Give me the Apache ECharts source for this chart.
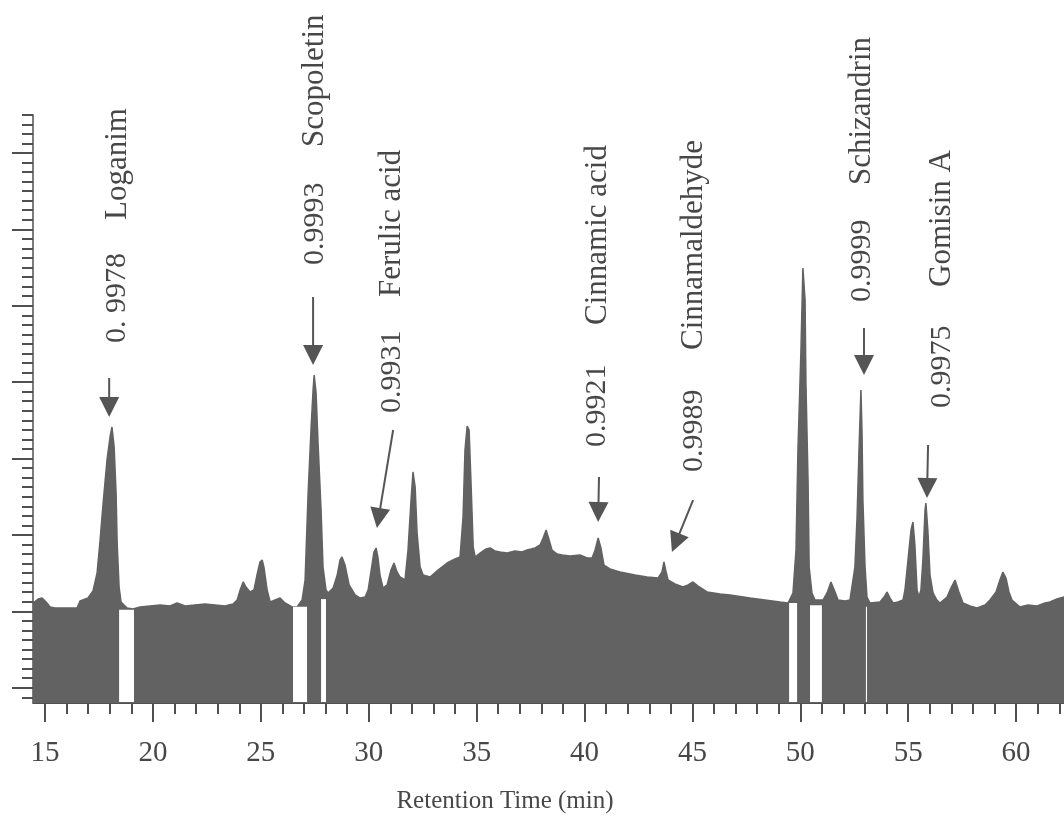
<!DOCTYPE html>
<html>
<head>
<meta charset="utf-8">
<script src="https://cdn.jsdelivr.net/npm/echarts@6/dist/echarts.min.js"></script>
<style>
html,body{margin:0;padding:0;background:#ffffff;}
#chart{width:1064px;height:818px;}
</style>
</head>
<body>
<div id="chart"></div>
<script>
// ---- chromatogram trace (retention time in min, detector signal in arbitrary units)
const retentionTime = [
  14.44,14.68,14.86,15.05,15.23,15.46,16.48,16.62,16.99,17.22,17.41,17.55,17.69,17.87,18.01,18.10,18.20,18.29,18.34,18.43,18.52,18.80,19.08,
  19.40,19.87,20.33,20.79,21.12,21.49,21.95,22.41,22.88,23.34,23.71,23.90,24.04,24.18,24.31,24.50,24.68,24.82,24.96,25.06,
  25.15,25.29,25.43,25.66,25.89,26.12,26.45,26.68,26.91,27.05,27.19,27.33,27.42,27.47,27.56,27.65,27.79,27.88,28.02,28.11,
  28.35,28.54,28.67,28.76,28.90,29.09,29.37,29.60,29.83,29.97,30.15,30.24,30.34,30.43,30.52,30.66,30.85,31.03,31.17,31.31,
  31.45,31.68,31.82,31.96,32.05,32.15,32.24,32.38,32.52,32.84,33.21,33.63,34.00,34.23,34.37,34.46,34.56,34.65,34.74,34.84,34.93,
  35.16,35.44,35.62,35.85,36.08,36.41,36.78,37.10,37.34,37.71,37.94,38.08,38.22,38.36,38.49,38.73,38.96,39.33,39.79,40.12,
  40.35,40.49,40.63,40.76,40.90,41.18,41.64,42.34,42.90,43.41,43.59,43.68,43.78,43.87,44.19,44.56,44.80,45.03,45.26,45.68,
  46.28,46.74,47.67,48.36,49.06,49.43,
  49.66,49.80,49.89,50.03,50.12,50.22,50.26,50.36,50.41,50.54,50.68,51.05,51.24,51.42,51.61,51.75,52.07,52.30,52.53,52.63,
  52.72,52.81,52.86,52.90,53.00,53.09,53.23,53.69,53.88,54.02,54.16,54.30,54.53,54.76,54.85,54.99,55.13,55.22,55.31,55.41,
  55.50,55.59,55.68,55.78,55.82,55.91,56.01,56.15,56.33,56.47,56.80,56.98,57.17,57.35,57.54,57.86,58.19,58.56,58.79,59.07,
  59.25,59.39,59.53,59.67,59.81,60.18,60.55,60.97,61.34,61.57,61.89,62.22
];
const signal = [
  13.09,13.61,13.74,13.22,12.57,12.43,12.43,13.35,13.74,14.66,17.02,21.34,26.18,31.81,34.82,36.13,33.51,27.49,20.94,15.18,13.22,12.43,12.30,
  12.57,12.70,12.83,12.70,13.09,12.70,12.83,12.96,12.83,12.70,12.96,13.48,14.79,15.84,15.18,14.53,14.79,16.75,18.46,18.72,
  17.67,14.79,13.22,13.48,13.74,13.09,12.57,12.57,13.48,16.10,27.49,36.13,40.97,42.93,40.58,34.03,25.26,17.80,14.79,14.40,
  15.05,16.75,18.72,19.11,18.06,15.45,14.14,13.74,13.87,14.79,18.06,19.76,20.29,18.98,16.75,15.05,15.45,17.41,18.32,17.15,
  16.49,16.10,20.03,26.57,30.24,28.27,22.25,17.80,16.75,16.49,17.41,18.32,18.85,19.11,24.35,33.12,36.26,35.73,28.80,20.42,19.11,
  19.63,20.16,20.29,19.90,19.76,19.63,19.90,19.76,20.03,20.29,20.68,21.60,22.64,21.34,20.03,19.50,19.37,19.24,19.37,18.98,
  18.98,20.03,21.60,20.29,18.06,17.54,17.15,16.75,16.49,16.36,17.15,18.46,17.15,16.10,15.58,15.18,15.45,15.84,15.31,14.53,
  14.27,14.14,13.74,13.48,13.22,13.09,
  14.40,20.03,33.12,46.20,56.94,52.75,41.88,28.80,17.80,14.40,13.48,13.48,14.40,15.84,14.53,13.48,13.35,13.48,17.80,24.35,
  33.12,40.97,35.34,26.57,17.80,13.87,13.09,13.22,13.87,14.53,13.74,13.09,13.22,13.48,14.79,18.72,22.64,23.69,20.68,14.79,
  13.87,14.79,18.72,25.26,26.18,22.64,16.75,14.40,13.48,13.09,13.87,15.05,16.10,14.53,13.09,12.70,12.43,12.83,13.48,14.53,
  16.10,17.15,16.36,14.53,13.48,12.57,12.83,12.70,13.09,13.22,13.61,13.87
];

// ---- integration gaps (white bands under baseline): start, end, top
const gapStart = [18.43, 26.49, 27.79, 49.48, 50.45, 53.04];
const gapEnd   = [19.12, 27.14, 28.02, 49.85, 51.00, 53.09];
const gapTop   = [12.2, 12.6, 13.6, 13.1, 12.8, 12.6];

// ---- axes ticks
const xMajorTicks = [15, 20, 25, 30, 35, 40, 45, 50, 55, 60];
const xMinorTicks = [15,16,17,18,19,20,21,22,23,24,25,26,27,28,29,30,31,32,33,34,35,36,37,38,39,40,
                     41,42,43,44,45,46,47,48,49,50,51,52,53,54,55,56,57,58,59,60,61,62];
const yMajorTicks = [2, 12, 22, 32, 42, 52, 62, 72];
const xMin = 14.44, xMax = 62.22, yMin = 0, yMax = 77;
const yMinorStep = 1.25, yMinorFirst = 0.75;

// ---- peak annotations
const compounds  = ['Loganim', 'Scopoletin', 'Ferulic acid', 'Cinnamic acid', 'Cinnamaldehyde', 'Schizandrin', 'Gomisin A'];
const similarity = ['0. 9978', '0.9993', '0.9931', '0.9921', '0.9989', '0.9999', '0.9975'];
const labelTime       = [18.36, 27.51, 31.08, 40.60, 45.07, 52.86, 56.57];
const similarityStart = [47.12, 57.33, 37.96, 33.51, 30.24, 52.49, 38.61];
const nameStart       = [63.22, 72.77, 53.14, 49.48, 46.20, 67.80, 54.45];
const arrowTailTime   = [17.97, 27.42, 31.13, 40.67, 45.03, 52.95, 55.92];
const arrowTailValue  = [42.54, 53.14, 35.73, 29.58, 26.57, 49.08, 33.77];
const arrowTipTime    = [17.97, 27.42, 30.38, 40.63, 44.05, 52.95, 55.87];
const arrowTipValue   = [37.43, 44.24, 22.91, 23.69, 19.76, 42.93, 26.83];

const FILL = '#626262';
const TEXT = '#474747';
const TICK = '#505050';
const SERIF = '"Liberation Serif", "DejaVu Serif", serif';
const PX_PER_UNIT = 7.64;

const traceData = retentionTime.map((t, i) => [t, signal[i]]);
const gapData = gapStart.map((s, i) => [s, gapEnd[i], gapTop[i]]);
const arrowData = arrowTailTime.map((t, i) => [t, arrowTailValue[i], arrowTipTime[i], arrowTipValue[i]]);
const labelData = labelTime.map((t, i) => [t, similarityStart[i], nameStart[i]]);

const chart = echarts.init(document.getElementById('chart'), null, {renderer: 'canvas'});

const gridTop = 818 - 115 - yMax * PX_PER_UNIT;
const mainGrid = {left: 33, right: 0, bottom: 115, top: gridTop};
// grid used only for the minor y ticks: its zero sits at the first minor tick
const minorYGrid = {left: 33, right: 0, bottom: 115 + yMinorFirst * PX_PER_UNIT, top: gridTop};

chart.setOption({
  animation: false,
  backgroundColor: '#ffffff',
  grid: [mainGrid, Object.assign({}, mainGrid), minorYGrid],
  xAxis: [{
    type: 'value', gridIndex: 0, min: xMin, max: xMax, position: 'bottom',
    splitLine: {show: false},
    axisLine: {show: true, onZero: false, lineStyle: {color: TICK, width: 1.2}},
    axisTick: {show: true, customValues: xMajorTicks, length: 19, lineStyle: {color: TICK, width: 2}},
    axisLabel: {show: true, customValues: xMajorTicks, margin: 36, color: TEXT,
                fontFamily: SERIF, fontSize: 29}
  }, {
    type: 'value', gridIndex: 1, min: xMin, max: xMax, position: 'bottom',
    splitLine: {show: false},
    axisLine: {show: false},
    axisTick: {show: true, customValues: xMinorTicks, length: 11, lineStyle: {color: TICK, width: 2}},
    axisLabel: {show: false}
  }, {
    type: 'value', gridIndex: 2, min: xMin, max: xMax, show: false
  }],
  yAxis: [{
    type: 'value', gridIndex: 0, min: yMin, max: yMax, position: 'left',
    splitLine: {show: false},
    axisLine: {show: true, onZero: false, lineStyle: {color: TICK, width: 1.5}},
    axisTick: {show: true, customValues: yMajorTicks, length: 21, lineStyle: {color: TICK, width: 2}},
    axisLabel: {show: false}
  }, {
    type: 'value', gridIndex: 1, min: yMin, max: yMax, show: false
  }, {
    type: 'value', gridIndex: 2, min: 0, max: yMax - yMinorFirst, interval: yMinorStep, position: 'left',
    splitLine: {show: false},
    axisLine: {show: false},
    axisTick: {show: true, length: 11, lineStyle: {color: TICK, width: 2}},
    axisLabel: {show: false}
  }],
  graphic: [{
    type: 'text', x: 505, y: 801,
    style: {text: 'Retention Time (min)', font: '25px ' + SERIF, fill: TEXT, align: 'center', verticalAlign: 'middle'}
  }],
  series: [{
    type: 'line', xAxisIndex: 0, yAxisIndex: 0, z: 2,
    data: traceData, showSymbol: false, symbol: 'none', smooth: false,
    lineStyle: {color: FILL, width: 1.5},
    areaStyle: {color: FILL, opacity: 1, origin: 'start'}
  }, {
    type: 'custom', xAxisIndex: 0, yAxisIndex: 0, z: 3, clip: false,
    data: gapData, encode: {x: [0, 1], y: 2},
    renderItem: function (params, api) {
      const p1 = api.coord([api.value(0), 0]);
      const p2 = api.coord([api.value(1), api.value(2)]);
      return {type: 'rect', shape: {x: p1[0], y: p2[1], width: p2[0] - p1[0], height: p1[1] - p2[1] - 1},
              style: {fill: '#ffffff'}};
    }
  }, {
    type: 'custom', xAxisIndex: 0, yAxisIndex: 0, z: 4, clip: false,
    data: arrowData, encode: {x: [0, 2], y: [1, 3]},
    renderItem: function (params, api) {
      const tail = api.coord([api.value(0), api.value(1)]);
      const tip = api.coord([api.value(2), api.value(3)]);
      const dx = tip[0] - tail[0], dy = tip[1] - tail[1];
      const len = Math.sqrt(dx * dx + dy * dy);
      const ux = dx / len, uy = dy / len;
      const headL = 20, headW = 10;
      const base = [tip[0] - ux * headL, tip[1] - uy * headL];
      const left = [base[0] - uy * headW, base[1] + ux * headW];
      const right = [base[0] + uy * headW, base[1] - ux * headW];
      return {type: 'group', children: [
        {type: 'line', shape: {x1: tail[0], y1: tail[1], x2: base[0] + ux * 2, y2: base[1] + uy * 2},
         style: {stroke: '#555555', lineWidth: 2}},
        {type: 'polygon', shape: {points: [tip, left, right]}, style: {fill: '#555555'}}
      ]};
    }
  }, {
    type: 'custom', xAxisIndex: 0, yAxisIndex: 0, z: 4, clip: false,
    data: labelData, encode: {x: 0, y: [1, 2]},
    renderItem: function (params, api) {
      const i = params.dataIndex;
      const p1 = api.coord([api.value(0), api.value(1)]);
      const p2 = api.coord([api.value(0), api.value(2)]);
      return {type: 'group', children: [
        {type: 'text', x: p1[0], y: p1[1], rotation: Math.PI / 2,
         style: {text: similarity[i], font: '30px ' + SERIF, fill: TEXT, align: 'left', verticalAlign: 'middle'}},
        {type: 'text', x: p2[0], y: p2[1], rotation: Math.PI / 2,
         style: {text: compounds[i], font: '31px ' + SERIF, fill: TEXT, align: 'left', verticalAlign: 'middle'}}
      ]};
    }
  }]
});
</script>
</body>
</html>
